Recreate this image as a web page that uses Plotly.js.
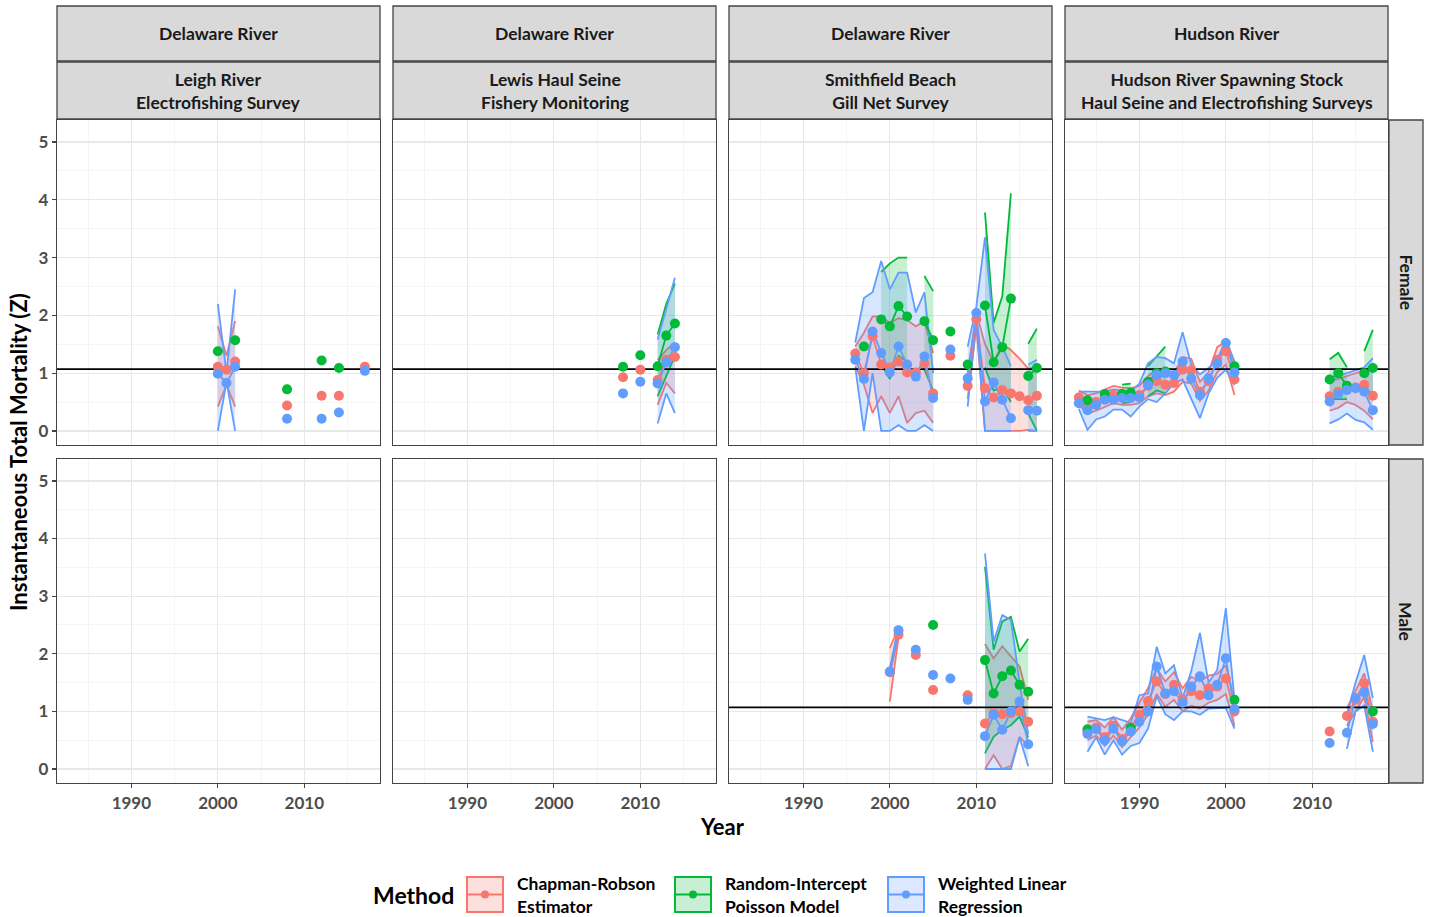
<!DOCTYPE html>
<html><head><meta charset="utf-8">
<script src="https://cdn.plot.ly/plotly-3.0.1.min.js"></script>
<style>html,body{margin:0;padding:0;background:#fff}#chart{width:1430px;height:917px}</style>
</head><body><div id="chart"></div><script>
// ---------------- DATA ----------------
const methodNames = ['Chapman-Robson<br>Estimator', 'Random-Intercept<br>Poisson Model', 'Weighted Linear<br>Regression'];
const riverLabels = ['Delaware River', 'Delaware River', 'Delaware River', 'Hudson River'];
const surveyLabels = ['Leigh River<br>Electrofishing Survey', 'Lewis Haul Seine<br>Fishery Monitoring', 'Smithfield Beach<br>Gill Net Survey', 'Hudson River Spawning Stock<br>Haul Seine and Electrofishing Surveys'];
const sexLabels = ['Female', 'Male'];
const xTickVals = [1990, 2000, 2010];
const yTickVals = [0, 1, 2, 3, 4, 5];
const referenceZ = 1.07;

// Leigh River, Female
const leighF_cr_year = [2000, 2001, 2002, 2008, 2012, 2014, 2017];
const leighF_cr_z    = [1.11, 1.06, 1.20, 0.44, 0.61, 0.61, 1.11];
const leighF_cr_lo   = [0.42, 0.80, 0.42, null, null, null, null];
const leighF_cr_hi   = [1.81, 1.30, 1.90, null, null, null, null];
const leighF_glm_year = [2000, 2002, 2008, 2012, 2014];
const leighF_glm_z    = [1.38, 1.57, 0.72, 1.22, 1.09];
const leighF_wlr_year = [2000, 2001, 2002, 2008, 2012, 2014, 2017];
const leighF_wlr_z    = [0.99, 0.83, 1.11, 0.21, 0.21, 0.32, 1.04];
const leighF_wlr_lo   = [0.00, 0.85, 0.00, null, null, null, null];
const leighF_wlr_hi   = [2.20, 1.00, 2.45, null, null, null, null];

// Lewis Haul Seine, Female
const lewisF_year = [2008, 2010, 2012, 2013, 2014];
const lewisF_cr_z  = [0.93, 1.06, 0.88, 1.23, 1.28];
const lewisF_cr_lo = [null, null, 0.45, 0.83, 0.65];
const lewisF_cr_hi = [null, null, 1.23, 1.40, 1.53];
const lewisF_glm_z  = [1.11, 1.31, 1.12, 1.65, 1.86];
const lewisF_glm_lo = [null, null, 0.60, 0.95, 1.30];
const lewisF_glm_hi = [null, null, 1.67, 2.20, 2.55];
const lewisF_wlr_z  = [0.65, 0.85, 0.82, 1.19, 1.45];
const lewisF_wlr_lo = [null, null, 0.13, 0.65, 0.31];
const lewisF_wlr_hi = [null, null, 1.58, 2.10, 2.65];

// Smithfield Beach, Female
const smithF_cr_year = [1996, 1997, 1998, 1999, 2000, 2001, 2002, 2003, 2004, 2005, 2007, 2009, 2010, 2011, 2012, 2013, 2014, 2015, 2016, 2017];
const smithF_cr_z    = [1.34, 1.00, 1.64, 1.15, 1.10, 1.20, 1.01, 1.01, 1.17, 0.65, 1.30, 0.78, 1.93, 0.74, 0.58, 0.71, 0.65, 0.60, 0.53, 0.61];
const smithF_cr_lo   = [1.12, 0.80, 0.31, 0.60, 0.31, 0.60, 0.14, 0.31, 0.35, 0.14, null, 0.55, 1.80, 0.00, 0.00, 0.00, 0.00, 0.00, 0.02, 0.00];
const smithF_cr_hi   = [1.46, 1.70, 1.98, 1.98, 1.87, 1.95, 1.92, 1.81, 1.90, 1.35, null, 1.00, 2.05, 1.50, 1.20, 1.50, 1.40, 1.25, 1.08, 1.10];
const smithF_glm_year = [1997, 1999, 2000, 2001, 2002, 2004, 2005, 2007, 2009, 2011, 2012, 2013, 2014, 2016, 2017];
const smithF_glm_z    = [1.46, 1.93, 1.81, 2.16, 1.98, 1.90, 1.57, 1.72, 1.15, 2.17, 1.19, 1.45, 2.29, 0.95, 1.09];
const smithF_glm_lo   = [null, 1.15, 0.90, 1.30, 1.20, 1.06, 0.70, null, null, 1.10, 0.70, 0.75, 0.50, 0.30, 0.00];
const smithF_glm_hi   = [null, 2.75, 2.90, 3.00, 3.00, 2.68, 2.42, null, null, 3.78, 1.87, 2.33, 4.11, 1.51, 1.77];
const smithF_wlr_year = [1996, 1997, 1998, 1999, 2000, 2001, 2002, 2003, 2004, 2005, 2007, 2009, 2010, 2011, 2012, 2013, 2014, 2016, 2017];
const smithF_wlr_z    = [1.23, 0.90, 1.72, 1.35, 1.01, 1.46, 1.15, 0.94, 1.29, 0.57, 1.41, 0.91, 2.04, 0.51, 0.84, 0.54, 0.22, 0.36, 0.35];
const smithF_wlr_lo   = [1.10, 0.00, 1.00, 0.00, 0.00, 0.10, 0.00, 0.00, 0.10, 0.00, null, 0.42, 1.90, 0.00, 0.00, 0.00, 0.00, 0.00, 0.00];
const smithF_wlr_hi   = [1.53, 2.30, 2.40, 2.94, 2.45, 2.74, 2.74, 2.05, 2.40, 1.00, null, 1.46, 2.15, 3.35, 1.75, 1.46, 1.12, 1.15, 1.23];

// Hudson River, Female
const hudsonF_year = [1983, 1984, 1985, 1986, 1987, 1988, 1989, 1990, 1991, 1992, 1993, 1994, 1995, 1996, 1997, 1998, 1999, 2000, 2001, 2012, 2013, 2014, 2015, 2016, 2017];
const hudsonF_cr_z  = [0.58, 0.45, 0.50, 0.58, 0.62, 0.60, 0.60, 0.62, 0.78, 0.86, 0.80, 0.83, 1.06, 1.05, 0.68, 0.86, 1.23, 1.38, 0.89, 0.60, 0.68, 0.72, 0.75, 0.80, 0.61];
const hudsonF_cr_lo = [0.45, 0.30, 0.35, 0.42, 0.48, 0.45, 0.45, 0.48, 0.60, 0.65, 0.62, 0.68, 0.85, 0.82, 0.52, 0.70, 1.02, 1.15, 0.62, 0.35, 0.40, 0.50, 0.45, 0.35, 0.20];
const hudsonF_cr_hi = [0.70, 0.62, 0.65, 0.72, 0.78, 0.75, 0.74, 0.78, 0.95, 1.05, 0.98, 1.00, 1.28, 1.25, 0.85, 1.02, 1.45, 1.55, 1.10, 0.85, 0.90, 0.95, 1.00, 1.05, 1.15];
const hudsonF_glm_year = [1984, 1986, 1988, 1989, 1991, 1992, 1993, 2001, 2012, 2013, 2014, 2016, 2017];
const hudsonF_glm_z    = [0.53, 0.64, 0.64, 0.66, 0.85, 1.00, 1.03, 1.12, 0.89, 1.00, 0.78, 1.00, 1.09];
const hudsonF_glm_lo   = [null, null, 0.48, 0.50, 0.60, 0.70, 0.65, null, 0.55, 0.55, 0.55, 0.70, 0.60];
const hudsonF_glm_hi   = [null, null, 0.80, 0.82, 1.12, 1.30, 1.46, null, 1.24, 1.35, 1.10, 1.38, 1.75];
const hudsonF_wlr_z  = [0.48, 0.36, 0.45, 0.54, 0.54, 0.57, 0.57, 0.58, 0.80, 0.97, 1.00, 0.97, 1.20, 0.91, 0.62, 0.91, 1.17, 1.52, 1.01, 0.51, 0.64, 0.71, 0.74, 0.68, 0.36];
const hudsonF_wlr_lo = [0.38, 0.02, 0.20, 0.25, 0.37, 0.37, 0.25, 0.42, 0.55, 0.50, 0.65, 0.83, 0.89, 0.57, 0.22, 0.65, 0.92, 1.06, 0.80, 0.13, 0.20, 0.30, 0.19, 0.15, 0.02];
const hudsonF_wlr_hi = [0.68, 0.68, 0.68, 0.68, 0.72, 0.70, 0.68, 0.82, 1.17, 1.28, 1.26, 1.17, 1.71, 1.15, 0.98, 1.09, 1.23, 1.59, 1.20, 0.83, 0.95, 1.00, 1.05, 1.10, 1.26];

// Smithfield Beach, Male
const smithM_cr_year = [2000, 2001, 2003, 2005, 2009, 2011, 2012, 2013, 2014, 2015, 2016];
const smithM_cr_z    = [1.68, 2.33, 1.98, 1.37, 1.28, 0.79, 0.97, 0.95, 0.97, 1.00, 0.82];
const smithM_cr_lo   = [1.17, 2.28, null, null, null, 0.00, 0.24, 0.00, 0.05, 0.56, 0.39];
const smithM_cr_hi   = [2.10, 2.45, null, null, null, 2.17, 1.92, 2.13, 1.95, 1.78, 1.20];
const smithM_glm_year = [2005, 2011, 2012, 2013, 2014, 2015, 2016];
const smithM_glm_z    = [2.50, 1.89, 1.31, 1.61, 1.71, 1.46, 1.34];
const smithM_glm_lo   = [null, 0.27, 0.56, 0.68, 0.76, 0.91, 0.55];
const smithM_glm_hi   = [null, 3.51, 2.07, 2.56, 2.64, 2.04, 2.26];
const smithM_wlr_year = [2000, 2001, 2003, 2005, 2007, 2009, 2011, 2012, 2013, 2014, 2015, 2016];
const smithM_wlr_z    = [1.69, 2.41, 2.07, 1.63, 1.57, 1.20, 0.57, 0.94, 0.68, 1.00, 1.17, 0.43];
const smithM_wlr_lo   = [1.62, 2.35, null, null, null, null, 0.00, 0.00, 0.00, 0.00, 0.55, 0.05];
const smithM_wlr_hi   = [1.75, 2.47, null, null, null, null, 3.74, 2.21, 2.67, 2.59, 1.50, 0.60];

// Hudson River, Male
const hudsonM_year = [1984, 1985, 1986, 1987, 1988, 1989, 1990, 1991, 1992, 1993, 1994, 1995, 1996, 1997, 1998, 1999, 2000, 2001, 2012, 2014, 2015, 2016, 2017];
const hudsonM_cr_z  = [0.65, 0.72, 0.55, 0.75, 0.52, 0.72, 0.94, 1.18, 1.52, 1.30, 1.46, 1.20, 1.35, 1.28, 1.40, 1.43, 1.57, 1.00, 0.65, 0.92, 1.20, 1.49, 0.82];
const hudsonM_cr_lo = [0.50, 0.58, 0.40, 0.58, 0.38, 0.55, 0.72, 0.95, 1.30, 1.08, 1.20, 1.00, 1.10, 1.05, 1.15, 1.20, 1.30, 0.75, null, 0.75, 1.00, 1.25, 0.47];
const hudsonM_cr_hi = [0.82, 0.85, 0.72, 0.90, 0.68, 0.88, 1.15, 1.40, 1.75, 1.52, 1.68, 1.40, 1.60, 1.52, 1.62, 1.65, 1.80, 1.20, null, 1.05, 1.35, 1.66, 1.00];
const hudsonM_glm_year = [1984, 1989, 2001, 2017];
const hudsonM_glm_z    = [0.69, 0.71, 1.20, 1.00];
const hudsonM_wlr_z  = [0.61, 0.69, 0.50, 0.70, 0.48, 0.65, 0.82, 1.00, 1.78, 1.31, 1.35, 1.15, 1.43, 1.61, 1.28, 1.46, 1.92, 1.04, 0.45, 0.63, 1.23, 1.33, 0.78];
const hudsonM_wlr_lo = [0.30, 0.55, 0.25, 0.50, 0.25, 0.40, 0.45, 0.70, 1.26, 0.95, 0.85, 1.00, 1.00, 0.94, 1.05, 1.05, 1.06, 0.70, null, 0.35, 1.00, 1.10, 0.30];
const hudsonM_wlr_hi = [0.91, 0.88, 0.85, 0.90, 0.85, 0.80, 1.28, 1.31, 2.12, 1.66, 1.80, 1.23, 1.70, 2.36, 1.50, 1.72, 2.79, 1.20, null, 0.95, 1.50, 1.98, 1.23];

// ---------------- STYLE / LAYOUT ----------------
const W = 1430, H = 917;
const COLORS = ['#F8766D', '#00BA38', '#619CFF'];
const FILLS = ['rgba(248,118,109,0.22)', 'rgba(0,186,56,0.22)', 'rgba(97,156,255,0.25)'];
const KEYFILLS = ['#fde0dd', '#c8efd3', '#dbe8ff'];
const FONT = 'Lato, "Open Sans", sans-serif';
const colPx = [[57, 380], [393, 716], [729, 1052], [1065, 1388]];
const rowPx = [[120, 445], [459, 783]];
const xRange = [1981.4, 2018.75];
const yRange = [-0.243, 5.38];
const fx = p => p / W, fy = p => 1 - p / H;

function S(year, z, lo, hi) { return {year, z, lo: lo || year.map(() => null), hi: hi || year.map(() => null)}; }

const panels = [
  {col: 0, row: 0, hline: true, series: [S(leighF_cr_year, leighF_cr_z, leighF_cr_lo, leighF_cr_hi), S(leighF_glm_year, leighF_glm_z), S(leighF_wlr_year, leighF_wlr_z, leighF_wlr_lo, leighF_wlr_hi)]},
  {col: 1, row: 0, hline: true, series: [S(lewisF_year, lewisF_cr_z, lewisF_cr_lo, lewisF_cr_hi), S(lewisF_year, lewisF_glm_z, lewisF_glm_lo, lewisF_glm_hi), S(lewisF_year, lewisF_wlr_z, lewisF_wlr_lo, lewisF_wlr_hi)]},
  {col: 2, row: 0, hline: true, series: [S(smithF_cr_year, smithF_cr_z, smithF_cr_lo, smithF_cr_hi), S(smithF_glm_year, smithF_glm_z, smithF_glm_lo, smithF_glm_hi), S(smithF_wlr_year, smithF_wlr_z, smithF_wlr_lo, smithF_wlr_hi)]},
  {col: 3, row: 0, hline: true, series: [S(hudsonF_year, hudsonF_cr_z, hudsonF_cr_lo, hudsonF_cr_hi), S(hudsonF_glm_year, hudsonF_glm_z, hudsonF_glm_lo, hudsonF_glm_hi), S(hudsonF_year, hudsonF_wlr_z, hudsonF_wlr_lo, hudsonF_wlr_hi)]},
  {col: 0, row: 1, hline: false, series: []},
  {col: 1, row: 1, hline: false, series: []},
  {col: 2, row: 1, hline: true, series: [S(smithM_cr_year, smithM_cr_z, smithM_cr_lo, smithM_cr_hi), S(smithM_glm_year, smithM_glm_z, smithM_glm_lo, smithM_glm_hi), S(smithM_wlr_year, smithM_wlr_z, smithM_wlr_lo, smithM_wlr_hi)]},
  {col: 3, row: 1, hline: true, series: [S(hudsonM_year, hudsonM_cr_z, hudsonM_cr_lo, hudsonM_cr_hi), S(hudsonM_glm_year, hudsonM_glm_z), S(hudsonM_year, hudsonM_wlr_z, hudsonM_wlr_lo, hudsonM_wlr_hi)]}
];

function runsOf(s) {
  const out = []; let cur = [];
  s.year.forEach((y, i) => {
    if (cur.length && y === s.year[cur[cur.length - 1]] + 1) cur.push(i);
    else { if (cur.length) out.push(cur); cur = [i]; }
  });
  if (cur.length) out.push(cur);
  return out.filter(r => r.length > 1);
}

const traces = [];
const layout = {
  width: W, height: H, margin: {l: 0, r: 0, t: 0, b: 0},
  paper_bgcolor: '#fff', plot_bgcolor: '#fff', showlegend: false,
  font: {family: FONT, color: '#000'},
  shapes: [], annotations: []
};

panels.forEach((p, k) => {
  const n = k + 1;
  const xa = n === 1 ? 'x' : 'x' + n, ya = n === 1 ? 'y' : 'y' + n;
  const xkey = n === 1 ? 'xaxis' : 'xaxis' + n, ykey = n === 1 ? 'yaxis' : 'yaxis' + n;
  const axCommon = {showgrid: true, gridcolor: '#e8e8e8', gridwidth: 1.2, zeroline: false,
    showline: true, mirror: true, linecolor: '#444444', linewidth: 1.3, ticklen: 4, tickwidth: 1.2, tickcolor: '#444444',
    tickfont: {family: FONT, size: 17, color: '#4d4d4d'}, fixedrange: true, layer: 'below traces'};
  layout[xkey] = Object.assign({}, axCommon, {
    domain: [fx(colPx[p.col][0]), fx(colPx[p.col][1])], anchor: ya, range: xRange,
    tickmode: 'array', tickvals: xTickVals, ticktext: xTickVals.map(v => '<b>' + v + '</b>'),
    showticklabels: p.row === 1, ticks: p.row === 1 ? 'outside' : '',
    minor: {dtick: 5, tick0: 1985, showgrid: true, gridcolor: '#f2f2f2', gridwidth: 0.8}
  });
  layout[ykey] = Object.assign({}, axCommon, {
    domain: [fy(rowPx[p.row][1]), fy(rowPx[p.row][0])], anchor: xa, range: yRange,
    tickmode: 'array', tickvals: yTickVals, ticktext: yTickVals.map(v => '<b>' + v + '</b>'),
    showticklabels: p.col === 0, ticks: p.col === 0 ? 'outside' : '',
    minor: {dtick: 0.5, tick0: 0.5, showgrid: true, gridcolor: '#f2f2f2', gridwidth: 0.8}
  });

  // keep the (possibly empty) panel drawn
  traces.push({type: 'scatter', mode: 'markers', xaxis: xa, yaxis: ya, x: [null], y: [null], hoverinfo: 'skip', marker: {size: 1, opacity: 0}});

  // ribbons
  p.series.forEach((s, m) => {
    runsOf(s).forEach(r => {
      if (r.some(i => s.lo[i] === null || s.hi[i] === null)) return;
      const yrs = r.map(i => s.year[i]);
      const lo = r.map(i => s.lo[i]), hi = r.map(i => s.hi[i]);
      traces.push({type: 'scatter', mode: 'lines', xaxis: xa, yaxis: ya, hoverinfo: 'skip',
        x: yrs.concat(yrs.slice().reverse()), y: hi.concat(lo.slice().reverse()),
        fill: 'toself', fillcolor: FILLS[m], line: {width: 0}});
      traces.push({type: 'scatter', mode: 'lines', xaxis: xa, yaxis: ya, hoverinfo: 'skip', x: yrs, y: lo, line: {color: COLORS[m], width: 1.8}});
      traces.push({type: 'scatter', mode: 'lines', xaxis: xa, yaxis: ya, hoverinfo: 'skip', x: yrs, y: hi, line: {color: COLORS[m], width: 1.8}});
    });
  });
  // reference line
  if (p.hline) {
    traces.push({type: 'scatter', mode: 'lines', xaxis: xa, yaxis: ya, hoverinfo: 'skip',
      x: xRange, y: [referenceZ, referenceZ], line: {color: '#000', width: 1.8}});
  }
  // estimate lines
  p.series.forEach((s, m) => {
    runsOf(s).forEach(r => {
      traces.push({type: 'scatter', mode: 'lines', xaxis: xa, yaxis: ya, hoverinfo: 'skip',
        x: r.map(i => s.year[i]), y: r.map(i => s.z[i]), line: {color: COLORS[m], width: 1.8}});
    });
  });
  // points
  p.series.forEach((s, m) => {
    traces.push({type: 'scatter', mode: 'markers', xaxis: xa, yaxis: ya, name: methodNames[m],
      x: s.year, y: s.z, marker: {color: COLORS[m], size: 10, line: {width: 0}}});
  });
});

// strips
const stripFill = '#d9d9d9', stripLine = '#444444';
const shp = layout.shapes, ann = layout.annotations;
colPx.forEach((c, i) => {
  shp.push({type: 'rect', xref: 'paper', yref: 'paper', x0: fx(c[0]), x1: fx(c[1]), y0: fy(61), y1: fy(6), fillcolor: stripFill, line: {color: stripLine, width: 1.3}, layer: 'below'});
  shp.push({type: 'rect', xref: 'paper', yref: 'paper', x0: fx(c[0]), x1: fx(c[1]), y0: fy(119), y1: fy(62), fillcolor: stripFill, line: {color: stripLine, width: 1.3}, layer: 'below'});
  ann.push({xref: 'paper', yref: 'paper', x: fx((c[0] + c[1]) / 2), y: fy(34), text: '<b>' + riverLabels[i] + '</b>', showarrow: false, xanchor: 'center', yanchor: 'middle', font: {family: FONT, size: 17.5, color: '#1a1a1a'}});
  ann.push({xref: 'paper', yref: 'paper', x: fx((c[0] + c[1]) / 2), y: fy(91), text: '<b>' + surveyLabels[i] + '</b>', showarrow: false, xanchor: 'center', yanchor: 'middle', font: {family: FONT, size: 17.5, color: '#1a1a1a'}});
});
rowPx.forEach((r, i) => {
  shp.push({type: 'rect', xref: 'paper', yref: 'paper', x0: fx(1389), x1: fx(1423), y0: fy(r[1]), y1: fy(r[0]), fillcolor: stripFill, line: {color: stripLine, width: 1.3}, layer: 'below'});
  ann.push({xref: 'paper', yref: 'paper', x: fx(1406), y: fy((r[0] + r[1]) / 2), text: '<b>' + sexLabels[i] + '</b>', textangle: 90, showarrow: false, xanchor: 'center', yanchor: 'middle', font: {family: FONT, size: 17.5, color: '#1a1a1a'}});
});

// axis titles
ann.push({xref: 'paper', yref: 'paper', x: fx(722), y: fy(826), text: '<b>Year</b>', showarrow: false, xanchor: 'center', yanchor: 'middle', font: {family: FONT, size: 22, color: '#000'}});
ann.push({xref: 'paper', yref: 'paper', x: fx(18), y: fy(452), text: '<b>Instantaneous Total Mortality (Z)</b>', textangle: -90, showarrow: false, xanchor: 'center', yanchor: 'middle', font: {family: FONT, size: 22, color: '#000'}});

// legend
ann.push({xref: 'paper', yref: 'paper', x: fx(371), y: fy(895), text: '<b>Method</b>', showarrow: false, xanchor: 'left', yanchor: 'middle', font: {family: FONT, size: 23, color: '#000'}});
const keyX = [467, 675, 888];
keyX.forEach((kx, m) => {
  shp.push({type: 'rect', xref: 'paper', yref: 'paper', x0: fx(kx), x1: fx(kx + 36), y0: fy(912), y1: fy(877), fillcolor: KEYFILLS[m], line: {color: COLORS[m], width: 2}});
  shp.push({type: 'line', xref: 'paper', yref: 'paper', x0: fx(kx + 1), x1: fx(kx + 35), y0: fy(894.5), y1: fy(894.5), line: {color: COLORS[m], width: 2}});
  shp.push({type: 'circle', xref: 'paper', yref: 'paper', x0: fx(kx + 14), x1: fx(kx + 22), y0: fy(898.5), y1: fy(890.5), fillcolor: COLORS[m], line: {width: 0}});
  ann.push({xref: 'paper', yref: 'paper', x: fx(kx + 48), y: fy(895), text: '<b>' + methodNames[m] + '</b>', showarrow: false, xanchor: 'left', yanchor: 'middle', align: 'left', font: {family: FONT, size: 17.5, color: '#000'}});
});

Plotly.newPlot('chart', traces, layout, {staticPlot: true, displayModeBar: false});
</script></body></html>
